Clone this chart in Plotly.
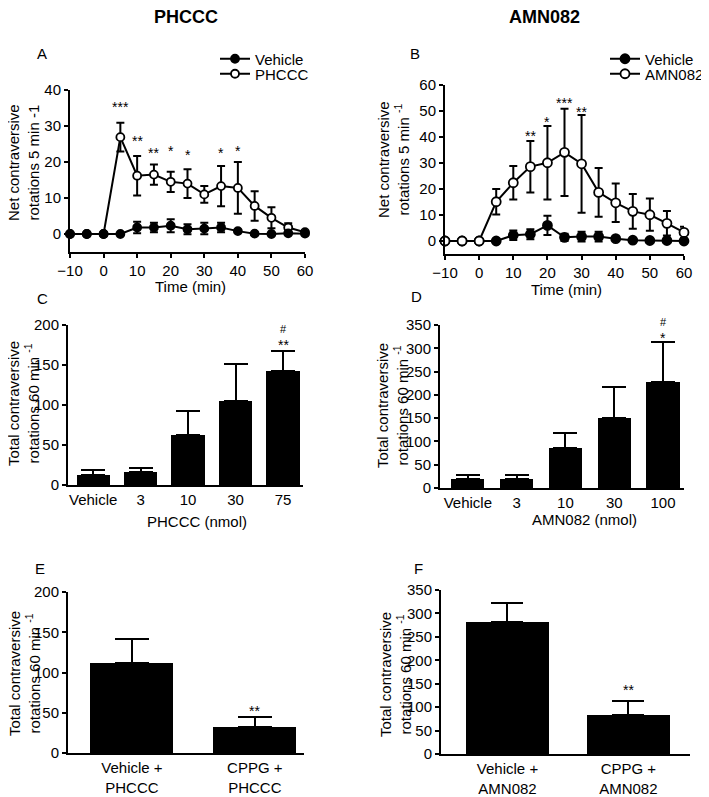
import plotly.graph_objects as go

W, H = 709, 797          # browser window
OX, OY = 8, 8            # page body margin offset
FW, FH = W - OX, H - OY  # figure size so that it ends exactly at the window edges

# ---------------- data ----------------
time_min = [-10, -5, 0, 5, 10, 15, 20, 25, 30, 35, 40, 45, 50, 55, 60]

a_vehicle_mean = [0, 0, 0, 0, 1.8, 1.8, 2.3, 1.3, 1.5, 1.8, 0.8, 0.1, 0, 0.2, 0.1]
a_vehicle_sem = [0, 0, 0, 0, 1.6, 1.3, 1.8, 1.4, 1.6, 1.3, 0.4, 0, 0, 0, 0]
a_phccc_mean = [0, 0, 0, 26.9, 16.2, 16.5, 14.5, 14.0, 11.0, 13.3, 12.8, 7.8, 4.5, 1.8, 0.5]
a_phccc_sem = [0, 0, 0, 4.0, 5.5, 2.8, 2.8, 4.0, 2.3, 5.6, 7.2, 4.1, 2.9, 1.2, 0.4]
a_sig_time = [5, 10, 15, 20, 25, 35, 40]
a_sig_text = ["***", "**", "**", "*", "*", "*", "*"]
a_sig_y = [35.2, 25.8, 22.4, 23.0, 21.9, 22.4, 23.0]

b_vehicle_mean = [0, 0, 0, 0, 2.2, 2.6, 6.0, 1.4, 1.7, 1.7, 0.9, 0.3, 0.2, 0.2, 0]
b_vehicle_sem = [0, 0, 0, 0, 1.8, 1.9, 3.7, 1.4, 1.9, 1.9, 0.6, 0, 0, 0, 0]
b_amn_mean = [0, 0, 0, 15.1, 22.4, 28.6, 30.1, 34.1, 29.7, 18.7, 14.7, 11.4, 10.1, 6.8, 3.3]
b_amn_sem = [0, 0, 0, 4.9, 6.4, 9.9, 14.1, 16.8, 18.8, 9.4, 7.4, 6.7, 6.2, 4.7, 2.2]
b_sig_time = [15, 20, 25, 30]
b_sig_text = ["**", "*", "***", "**"]
b_sig_y = [40.4, 45.8, 53.1, 49.6]

c_doses = ["Vehicle", "3", "10", "30", "75"]
c_mean = [12, 16, 62, 105, 142]
c_sem = [7, 5, 30, 46, 26]

d_doses = ["Vehicle", "3", "10", "30", "100"]
d_mean = [20, 19, 86, 150, 227]
d_sem = [8.5, 9.5, 33, 66, 86.5]

e_groups = ["Vehicle +<br>PHCCC", "CPPG +<br>PHCCC"]
e_mean = [112, 32.5]
e_sem = [30, 12]

f_groups = ["Vehicle +<br>AMN082", "CPPG +<br>AMN082"]
f_mean = [281, 83]
f_sem = [40.5, 30]

# ---------------- helpers ----------------
FONT = "Liberation Sans, Arial, sans-serif"


def px(x):
    return (x - OX) / FW


def py(y):
    return 1 - (y - OY) / FH


def xd(x0, x1):
    return [px(x0), px(x1)]


def yd(top, bottom):
    return [py(bottom), py(top)]


fig = go.Figure()


def line_trace(x, y, e, filled, name, xa, ya, legend, msize):
    return go.Scatter(
        x=x, y=y, mode="lines+markers", name=name, xaxis=xa, yaxis=ya,
        legend=legend,
        line=dict(color="black", width=2),
        marker=dict(symbol="circle", size=msize,
                    color="black" if filled else "white",
                    line=dict(color="black", width=1.8)),
        error_y=dict(type="data", array=e, symmetric=True, color="black",
                     thickness=2, width=4),
        cliponaxis=False,
    )


# Panel A (drug drawn first, vehicle on top)
fig.add_trace(line_trace(time_min, a_phccc_mean, a_phccc_sem, False, "PHCCC", "x", "y", "legend2", 8))
fig.add_trace(line_trace(time_min, a_vehicle_mean, a_vehicle_sem, True, "Vehicle", "x", "y", "legend", 8))
# Panel B (vehicle first, drug on top)
fig.add_trace(line_trace(time_min, b_vehicle_mean, b_vehicle_sem, True, "Vehicle", "x2", "y2", "legend3", 9))
fig.add_trace(line_trace(time_min, b_amn_mean, b_amn_sem, False, "AMN082", "x2", "y2", "legend4", 9))


def bar_trace(means, sems, xa, ya, width, cap):
    return go.Bar(
        x=list(range(len(means))), y=means, xaxis=xa, yaxis=ya, width=width,
        marker=dict(color="black", line=dict(width=0)), showlegend=False,
        error_y=dict(type="data", symmetric=False, array=sems,
                     arrayminus=[0] * len(means), color="black",
                     thickness=2, width=cap),
    )


fig.add_trace(bar_trace(c_mean, c_sem, "x3", "y3", 0.7, 12))
fig.add_trace(bar_trace(d_mean, d_sem, "x4", "y4", 0.68, 12))
fig.add_trace(bar_trace(e_mean, e_sem, "x5", "y5", 0.675, 17))
fig.add_trace(bar_trace(f_mean, f_sem, "x6", "y6", 0.69, 16))

axis_common = dict(showline=True, linewidth=2, linecolor="black", ticks="outside",
                   ticklen=4, tickwidth=2, tickcolor="black", showgrid=False,
                   zeroline=False, automargin=False,
                   tickfont=dict(family=FONT, size=15, color="black"))
bar_x = {**axis_common, "ticks": ""}


def leg(xp, yp):
    return dict(x=px(xp), y=py(yp), xanchor="left", yanchor="middle",
                font=dict(family=FONT, size=15, color="black"),
                bgcolor="rgba(0,0,0,0)", itemwidth=30, borderwidth=0)


layout = dict(
    width=FW, height=FH, autosize=False,
    margin=dict(l=0, r=0, t=0, b=0, pad=0, autoexpand=False),
    paper_bgcolor="white", plot_bgcolor="white",
    font=dict(family=FONT, size=15, color="black"),
    bargap=0,
    # A
    xaxis=dict(domain=xd(70, 305), range=[-10, 60], tickvals=[-10, 0, 10, 20, 30, 40, 50, 60],
               anchor="y", **axis_common),
    yaxis=dict(domain=yd(90, 252), range=[-5, 40], tickvals=[0, 10, 20, 30, 40],
               anchor="x", **axis_common),
    # B
    xaxis2=dict(domain=xd(445, 684), range=[-10, 60], tickvals=[-10, 0, 10, 20, 30, 40, 50, 60],
                anchor="y2", **axis_common),
    yaxis2=dict(domain=yd(85, 254), range=[-5, 60], tickvals=[0, 10, 20, 30, 40, 50, 60],
                anchor="x2", **axis_common),
    # C
    xaxis3=dict(domain=xd(68, 303), range=[-0.53, 4.42], tickvals=list(range(5)),
                ticktext=c_doses, anchor="y3", **bar_x),
    yaxis3=dict(domain=yd(325, 485), range=[0, 200], tickvals=[0, 50, 100, 150, 200],
                anchor="x3", **axis_common),
    # D
    xaxis4=dict(domain=xd(440, 684), range=[-0.57, 4.43], tickvals=list(range(5)),
                ticktext=d_doses, anchor="y4", **bar_x),
    yaxis4=dict(domain=yd(325, 488), range=[0, 350], tickvals=list(range(0, 351, 50)),
                anchor="x4", **axis_common),
    # E
    xaxis5=dict(domain=xd(68, 304), range=[-0.52, 1.40], tickvals=[0, 1],
                ticktext=e_groups, anchor="y5", **bar_x),
    yaxis5=dict(domain=yd(592, 753), range=[0, 200], tickvals=[0, 50, 100, 150, 200],
                anchor="x5", **axis_common),
    # F
    xaxis6=dict(domain=xd(441, 690), range=[-0.55, 1.51], tickvals=[0, 1],
                ticktext=f_groups, anchor="y6", **bar_x),
    yaxis6=dict(domain=yd(590, 754), range=[0, 350], tickvals=list(range(0, 351, 50)),
                anchor="x6", **axis_common),
    legend=leg(215, 59),
    legend2=leg(215, 74),
    legend3=leg(605, 59),
    legend4=leg(605, 74),
)
fig.update_layout(**layout)

ann = []


def text_px(x, y, text, size=15, bold=False, angle=0, xanchor="center", yanchor="middle"):
    ann.append(dict(x=px(x), y=py(y), xref="paper", yref="paper", text=text,
                    showarrow=False, textangle=angle, xanchor=xanchor, yanchor=yanchor,
                    font=dict(family=FONT, size=size, color="black",
                              weight="bold" if bold else "normal")))


# column titles
text_px(186, 17, "PHCCC", size=18, bold=True)
text_px(544, 17, "AMN082", size=18, bold=True)
# panel letters
text_px(42, 54, "A")
text_px(415, 54, "B")
text_px(42, 298, "C")
text_px(417, 296, "D")
text_px(40, 568, "E")
text_px(418, 568, "F")
# x axis titles
text_px(190, 286, "Time (min)")
text_px(566, 290, "Time (min)")
text_px(197, 521, "PHCCC (nmol)")
text_px(584, 519, "AMN082 (nmol)")
# y axis titles
text_px(24, 163, "Net contraversive<br>rotations 5 min -1", angle=-90)
text_px(394, 160, "Net contraversive<br>rotations 5 min <sup>-1</sup>", angle=-90)
text_px(24, 404, "Total contraversive<br>rotations 60 min <sup>-1</sup>", angle=-90)
text_px(393, 406, "Total contraversive<br>rotations 60 min <sup>-1</sup>", angle=-90)
text_px(24, 674, "Total contraversive<br>rotations 60 min <sup>-1</sup>", angle=-90)
text_px(395, 675, "Total contraversive<br>rotations 60 min <sup>-1</sup>", angle=-90)

# significance marks (data coordinates)
for t, s, yv in zip(a_sig_time, a_sig_text, a_sig_y):
    ann.append(dict(x=t, y=yv, xref="x", yref="y", text=s, showarrow=False,
                    font=dict(family=FONT, size=14, color="black")))
for t, s, yv in zip(b_sig_time, b_sig_text, b_sig_y):
    ann.append(dict(x=t, y=yv, xref="x2", yref="y2", text=s, showarrow=False,
                    font=dict(family=FONT, size=14, color="black")))
ann.append(dict(x=4, y=175, xref="x3", yref="y3", text="**", showarrow=False,
                font=dict(family=FONT, size=14, color="black")))
ann.append(dict(x=4, y=195, xref="x3", yref="y3", text="#", showarrow=False,
                font=dict(family=FONT, size=11, color="black")))
ann.append(dict(x=4, y=322, xref="x4", yref="y4", text="*", showarrow=False,
                font=dict(family=FONT, size=14, color="black")))
ann.append(dict(x=4, y=348, xref="x4", yref="y4", text="#", showarrow=False, yshift=4,
                font=dict(family=FONT, size=11, color="black")))
ann.append(dict(x=1, y=52.7, xref="x5", yref="y5", text="**", showarrow=False,
                font=dict(family=FONT, size=14, color="black")))
ann.append(dict(x=1, y=137, xref="x6", yref="y6", text="**", showarrow=False,
                font=dict(family=FONT, size=14, color="black")))

fig.update_layout(annotations=ann)
fig.write_html("out.html")
